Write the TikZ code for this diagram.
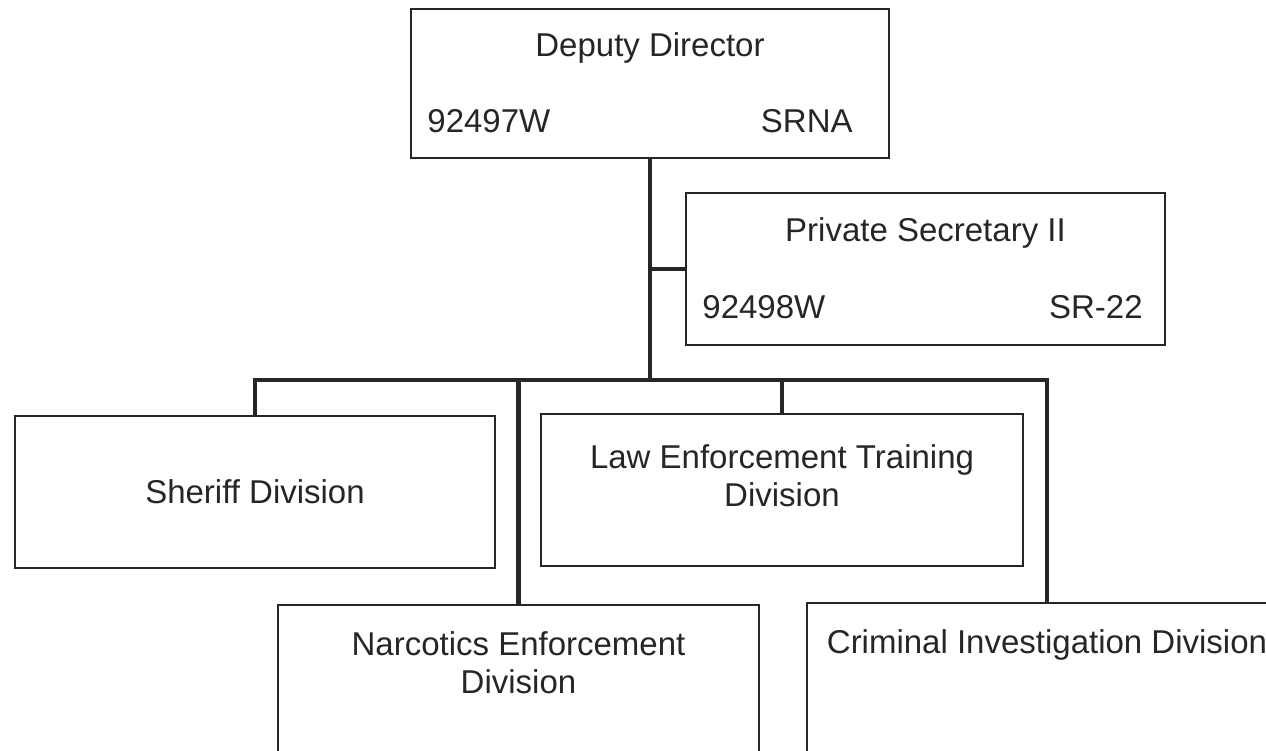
\documentclass[tikz,border=0pt]{standalone}
\usepackage{fontspec}
\setmainfont{Liberation Sans}
\usetikzlibrary{positioning}

\begin{document}
\begin{tikzpicture}[x = 1pt, y = 1pt,
    every node/.style = {inner sep = 0pt, text = black!85, font = \fontsize{33}{38}\selectfont},
    box/.style = {draw = black!85, line width = 1.6pt, minimum width = 480pt, minimum height = 152pt},
    link/.style = {draw = black!85, line width = 4.5pt}]
    \clip (0,0) rectangle (1266,751);
    % boxes
    \node[box, minimum width = 478pt, minimum height = 149pt] (dd) at (650,667.5) {};
    \node[box, minimum width = 479pt] (ps) at (925.5,482) {};
    \node[box] (sd) at (255,259) {Sheriff Division};
    \node[box, minimum width = 482pt] (le) at (782,261) {};
    \node[box, minimum width = 481pt] (ne) at (518.5,70) {};
    \node[box] (ci) at (1047,72) {};
    % texts
    \node[below = 24pt of dd.north] (ddt) {Deputy Director};
    \node[above right = 26pt and 17pt of dd.south west] (ddn) {92497W};
    \node[above left = 26pt and 37pt of dd.south east] (ddg) {SRNA};
    \node[below = 25pt of ps.north] (pst) {Private Secretary II};
    \node[above right = 27pt and 17pt of ps.south west] (psn) {92498W};
    \node[above left = 27pt and 23pt of ps.south east] (psg) {SR-22};
    \node[below = 31pt of le.north, align = center] (let) {Law Enforcement Training\\Division};
    \node[below = 27pt of ne.north, align = center] (net) {Narcotics Enforcement\\Division};
    \node[below = 27pt of ci.north] (cit) {Criminal Investigation Division};
    % connectors
    \coordinate (bar) at (650,371);
    \draw[link] (dd.south) -- (bar);
    \draw[link] (ps.west) -- (ps.west -| bar);
    \foreach \kid in {sd, ne, le, ci}
        \draw[link] (bar) -| (\kid.north);
\end{tikzpicture}
\end{document}
